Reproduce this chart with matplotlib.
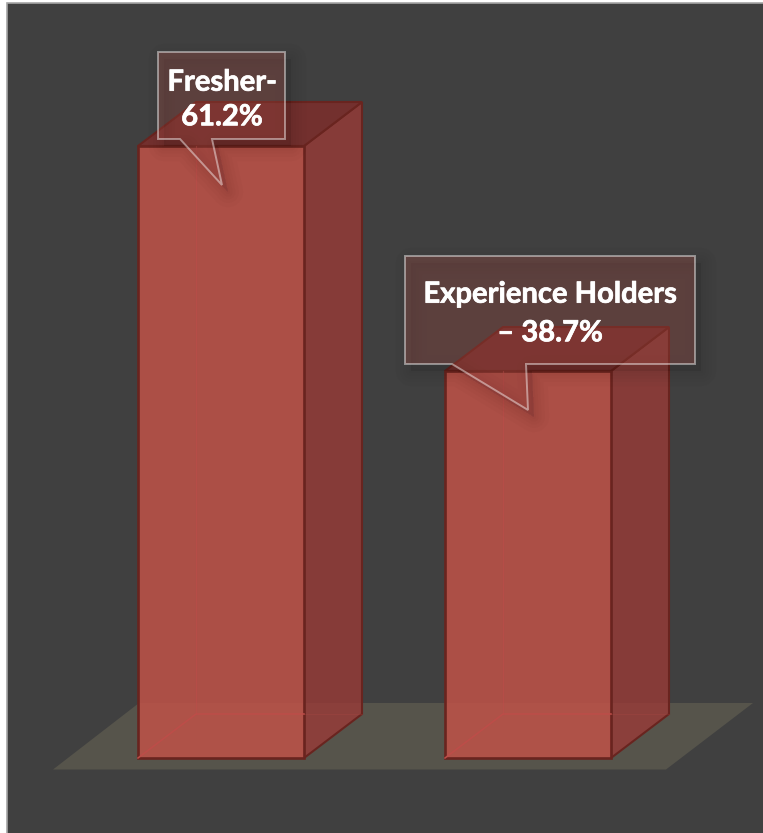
import matplotlib
matplotlib.use("Agg")
import matplotlib.pyplot as plt
import matplotlib.patheffects as pe
from matplotlib.patches import Polygon, Rectangle

categories = ["Fresher-\n61.2%", "Experience Holders\n– 38.7%"]
values = [61.2, 38.7]

W, H = 763, 833
fig = plt.figure(figsize=(W / 100, H / 100), dpi=100, facecolor="#ffffff")
ax = fig.add_axes([0, 0, 1, 1])
ax.set_xlim(0, W)
ax.set_ylim(H, 0)
ax.axis("off")

ax.add_patch(Rectangle((6.5, 2.5), W, H, fc="#404040", ec="#a6a6a6", lw=1.2, zorder=0))

base_y = 758
scale = (base_y - 146) / values[0]
bar_w = 166
dx, dy = 58, -44
lefts = [138, 445]
ax.add_patch(Polygon([(53, 769.5), (666, 769.5), (753, 703), (139, 703)], closed=True,
                     fc="#56544b", ec="none", zorder=1))

front = (192 / 255, 82 / 255, 72 / 255, 0.85)
side = (153 / 255, 58 / 255, 55 / 255, 0.8)
top = "#73302e"
edge = "#69241f"
inner = "#bd4d48"

for left, value in zip(lefts, values):
    y = base_y - value * scale
    r = left + bar_w
    ax.add_patch(Polygon([(r, y), (r + dx, y + dy), (r + dx, base_y + dy), (r, base_y)],
                         closed=True, fc=side, ec=edge, lw=1.5, zorder=3))
    ax.add_patch(Polygon([(left, y), (left + dx, y + dy), (r + dx, y + dy), (r, y)],
                         closed=True, fc=top, ec=edge, lw=1.5, zorder=3))
    ax.add_patch(Rectangle((left, y), bar_w, base_y - y, fc=front, ec=edge, lw=1.9, zorder=4))
    ax.plot([left, left + dx, r], [base_y, base_y + dy, base_y + dy], color=inner, lw=1.1, zorder=5)
    ax.plot([r, r + dx], [base_y + dy, base_y + dy], color=inner, lw=0.8, alpha=0.2, zorder=5)
    ax.plot([left + dx, left + dx], [base_y + dy, y], color=inner, lw=0.8, alpha=0.55, zorder=5)

callouts = [
    dict(box=(158, 52, 285, 139), tail=[(180, 139), (222, 185), (212, 139)], xy=(222, 100), ls=1.41),
    dict(box=(405, 256, 695, 364), tail=[(452, 364), (528, 410), (526, 364)], xy=(550, 314), ls=1.6),
]
for text, c in zip(categories, callouts):
    x0, y0, x1, y1 = c["box"]
    a, b, d = c["tail"]
    pts = [(x0, y0), (x1, y0), (x1, y1), d, b, a, (x0, y1)]
    shifted = [(p[0] + 6, p[1] + 7) for p in pts]
    for lw in (22, 16, 11, 7, 3):
        ax.add_patch(Polygon(shifted, closed=True, fc=(0, 0, 0, 0.014), ec=(0, 0, 0, 0.014),
                             lw=lw, joinstyle="round", zorder=6))
    ax.add_patch(Polygon(pts, closed=True, fc=(173 / 255, 79 / 255, 71 / 255, 0.3),
                         ec=(1, 1, 1, 0.45), lw=1.4, zorder=7))
    t = ax.text(c["xy"][0], c["xy"][1], text, ha="center", va="center", color="white", fontsize=21,
                fontfamily=["Lato", "DejaVu Sans"], fontweight="bold", linespacing=c["ls"], zorder=8)
    t.set_path_effects([pe.withStroke(linewidth=0.5, foreground="white")])

fig.savefig("out.png", dpi=100, facecolor=fig.get_facecolor())
